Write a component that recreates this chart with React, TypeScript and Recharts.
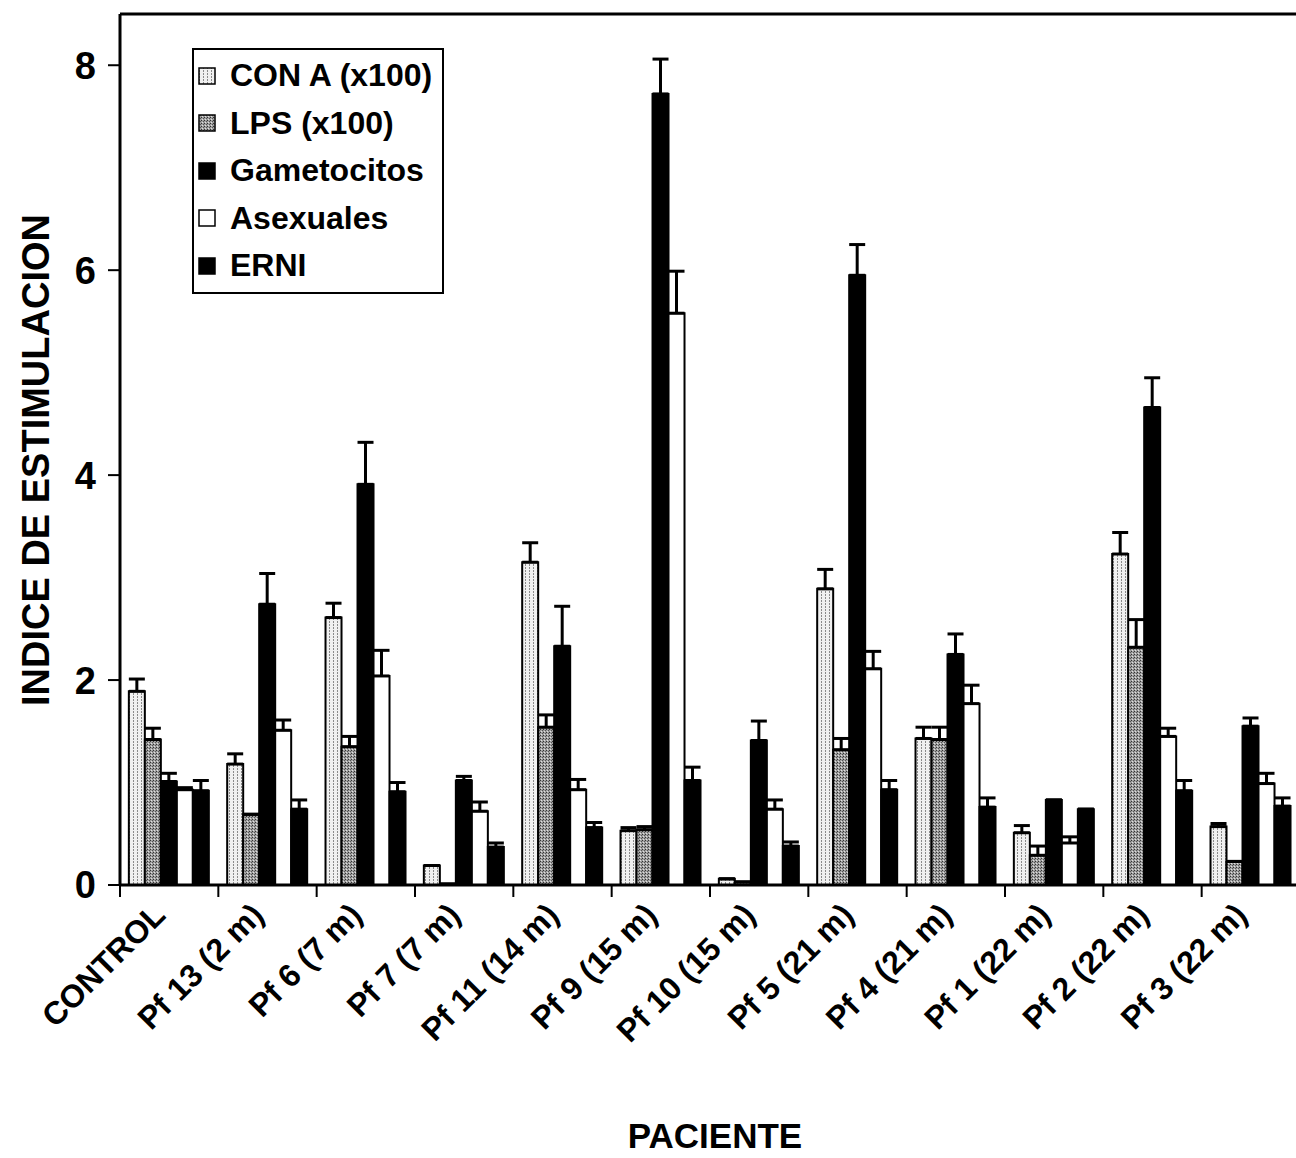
import { BarChart, Bar, XAxis, YAxis, ErrorBar, Legend, Label, ReferenceLine } from "recharts"

const pacientes = [
  "CONTROL",
  "Pf 13 (2 m)",
  "Pf 6 (7 m)",
  "Pf 7 (7 m)",
  "Pf 11 (14 m)",
  "Pf 9 (15 m)",
  "Pf 10 (15 m)",
  "Pf 5 (21 m)",
  "Pf 4 (21 m)",
  "Pf 1 (22 m)",
  "Pf 2 (22 m)",
  "Pf 3 (22 m)",
]

// valores medios y desviación (solo hacia arriba)
const conA = [1.89, 1.18, 2.61, 0.19, 3.15, 0.53, 0.06, 2.89, 1.43, 0.51, 3.23, 0.57]
const conAErr = [0.12, 0.1, 0.14, 0, 0.19, 0.03, 0, 0.19, 0.11, 0.07, 0.21, 0.03]
const lps = [1.42, 0.69, 1.35, 0.01, 1.54, 0.54, 0.03, 1.32, 1.42, 0.29, 2.32, 0.23]
const lpsErr = [0.11, 0, 0.1, 0, 0.12, 0.03, 0, 0.11, 0.12, 0.09, 0.27, 0]
const gametocitos = [1.01, 2.74, 3.91, 1.02, 2.33, 7.72, 1.41, 5.95, 2.25, 0.83, 4.66, 1.55]
const gametocitosErr = [0.08, 0.3, 0.41, 0.04, 0.39, 0.34, 0.19, 0.3, 0.2, 0, 0.29, 0.08]
const asexuales = [0.93, 1.51, 2.04, 0.72, 0.93, 5.58, 0.74, 2.11, 1.77, 0.41, 1.45, 0.99]
const asexualesErr = [0.02, 0.1, 0.25, 0.09, 0.1, 0.41, 0.09, 0.17, 0.18, 0.06, 0.08, 0.1]
const erni = [0.92, 0.74, 0.91, 0.37, 0.56, 1.02, 0.38, 0.93, 0.76, 0.74, 0.92, 0.77]
const erniErr = [0.1, 0.09, 0.09, 0.04, 0.05, 0.13, 0.04, 0.09, 0.09, 0, 0.1, 0.08]

const yTicks = [0, 2, 4, 6, 8]
const yMax = 8.5

const data = pacientes.map((name, i) => ({
  name,
  conA: conA[i],
  conAErr: [0, conAErr[i]],
  lps: lps[i],
  lpsErr: [0, lpsErr[i]],
  gametocitos: gametocitos[i],
  gametocitosErr: [0, gametocitosErr[i]],
  asexuales: asexuales[i],
  asexualesErr: [0, asexualesErr[i]],
  erni: erni[i],
  erniErr: [0, erniErr[i]],
}))

const series = [
  { key: "conA", name: "CON A (x100)", fill: "url(#patConA)" },
  { key: "lps", name: "LPS (x100)", fill: "url(#patLps)" },
  { key: "gametocitos", name: "Gametocitos", fill: "#000" },
  { key: "asexuales", name: "Asexuales", fill: "#fff" },
  { key: "erni", name: "ERNI", fill: "#000" },
]

const font = '"Liberation Sans", Arial, sans-serif'

const XTick = (props: any) => {
  const { x, y, payload, index, visibleTicksCount } = props
  const half = payload.offset || 0
  return (
    <g>
      <line x1={x - half} y1={y} x2={x - half} y2={y + 12} stroke="#000" strokeWidth={2} />
      {index === visibleTicksCount - 1 && (
        <line x1={x + half} y1={y} x2={x + half} y2={y + 12} stroke="#000" strokeWidth={2} />
      )}
      <text
        transform={`translate(${x - 10},${y + 24}) rotate(-45)`}
        textAnchor="end"
        dy="0.35em"
        fontSize={32}
        fontWeight="bold"
        fontFamily={font}
        fill="#000"
      >
        {payload.value}
      </text>
    </g>
  )
}

const renderLegend = () => (
  <div
    style={{
      border: "2px solid #000",
      background: "#fff",
      padding: "2px 10px 2px 4px",
      fontFamily: font,
      fontWeight: "bold",
      fontSize: 32,
      lineHeight: "47.5px",
      color: "#000",
    }}
  >
    {series.map((s) => (
      <div key={s.key} style={{ display: "flex", alignItems: "center", whiteSpace: "nowrap" }}>
        <svg width={18} height={18} style={{ marginRight: 14 }}>
          <rect x={1} y={1} width={16} height={16} fill={s.fill} stroke="#000" strokeWidth={1.5} />
        </svg>
        {s.name}
      </div>
    ))}
  </div>
)

export default function App() {
  return (
    <div style={{ position: "absolute", left: 0, top: 0, width: 1296, height: 1158, overflow: "hidden", background: "#fff" }}>
      <svg width={0} height={0} style={{ position: "absolute" }}>
        <defs>
          <pattern id="patConA" width={4} height={3} patternUnits="userSpaceOnUse">
            <rect width={4} height={3} fill="#f0f0f0" />
            <rect x={1} y={0} width={1} height={2} fill="#8a8a8a" />
          </pattern>
          <pattern id="patLps" width={3} height={3} patternUnits="userSpaceOnUse">
            <rect width={3} height={3} fill="#a0a0a0" />
            <rect x={0} y={0} width={1} height={1} fill="#333" />
            <rect x={2} y={1} width={1} height={1} fill="#555" />
            <rect x={1} y={2} width={1} height={1} fill="#e0e0e0" />
          </pattern>
        </defs>
      </svg>
      <BarChart
        width={1310}
        height={1158}
        data={data}
        margin={{ top: 14, right: 10, left: 0, bottom: 0 }}
        barCategoryGap="9%"
        barGap={0}
      >
        <XAxis
          dataKey="name"
          height={273}
          interval={0}
          tickSize={0}
          tickMargin={0}
          tickLine={false}
          axisLine={{ stroke: "#000", strokeWidth: 3 }}
          tick={<XTick />}
        >
          <Label
            content={() => (
              <text x={715} y={1148} textAnchor="middle" fontSize={35} fontWeight="bold" fontFamily={font} fill="#000">
                PACIENTE
              </text>
            )}
          />
        </XAxis>
        <YAxis
          width={120}
          domain={[0, yMax]}
          ticks={yTicks}
          tickSize={12}
          tickMargin={12}
          tickLine={{ stroke: "#000", strokeWidth: 2 }}
          axisLine={{ stroke: "#000", strokeWidth: 3 }}
          tick={{ fontSize: 38, fontWeight: "bold", fontFamily: font, fill: "#000" }}
        >
          <Label
            content={() => (
              <text
                x={36}
                y={460}
                transform="rotate(-90 36 460)"
                textAnchor="middle"
                dominantBaseline="central"
                fontSize={38}
                fontWeight="bold"
                fontFamily={font}
                fill="#000"
              >
                INDICE DE ESTIMULACION
              </text>
            )}
          />
        </YAxis>
        <ReferenceLine y={yMax} stroke="#000" strokeWidth={3} />
        <Legend
          layout="vertical"
          align="center"
          verticalAlign="middle"
          content={renderLegend}
          wrapperStyle={{ left: 192, top: 48, width: "auto", height: "auto" }}
        />
        {series.map((s) => (
          <Bar
            key={s.key}
            dataKey={s.key}
            name={s.name}
            fill={s.fill}
            stroke="#000"
            strokeWidth={2}
            isAnimationActive={false}
          >
            <ErrorBar
              dataKey={s.key + "Err"}
              direction="y"
              width={8}
              stroke="#000"
              strokeWidth={3}
              isAnimationActive={false}
            />
          </Bar>
        ))}
      </BarChart>
    </div>
  )
}
